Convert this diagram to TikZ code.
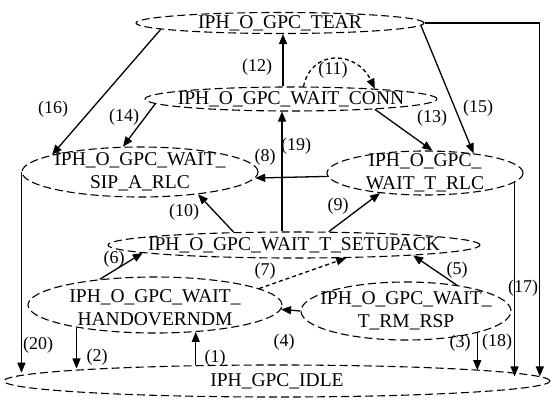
\documentclass[tikz,border=0pt]{standalone}
\usepackage{fontspec}
\setmainfont{Liberation Serif}
\usetikzlibrary{shapes.geometric,arrows.meta,calc}
\begin{document}
\begin{tikzpicture}[x=1pt,y=-1pt,
  ell/.style={draw, ellipse, dash pattern=on 8pt off 4pt, line width=1.1pt, inner sep=0pt},
  txt/.style={inner sep=0pt, align=center, font=\fontsize{19.5}{23}\selectfont},
  lbl/.style={inner sep=0pt, font=\fontsize{18}{21}\selectfont},
  arr/.style={line width=1.3pt, -{Triangle[length=10pt,width=8pt]}},
  darr/.style={arr, dash pattern=on 4pt off 3pt}]
\useasboundingbox (0,0) rectangle (553,404);

% states
\node[ell, minimum width=288pt, minimum height=21pt] (tear) at (280,23) {};
\node[txt] (tear-t) at (tear) {IPH\_O\_GPC\_TEAR};
\node[ell, minimum width=292pt, minimum height=24pt] (conn) at (291,99) {};
\node[txt] (conn-t) at (conn) {IPH\_O\_GPC\_WAIT\_CONN};
\node[ell, minimum width=236pt, minimum height=50pt] (sip) at (140,172) {};
\node[txt] (sip-t) at (sip) {IPH\_O\_GPC\_WAIT\_\\SIP\_A\_RLC};
\node[ell, minimum width=196pt, minimum height=44pt] (trlc) at (425,173) {};
\node[txt] (trlc-t) at (trlc) {IPH\_O\_GPC\_\\WAIT\_T\_RLC};
\node[ell, minimum width=372pt, minimum height=26pt] (setup) at (294,245) {};
\node[txt] (setup-t) at (setup) {IPH\_O\_GPC\_WAIT\_T\_SETUPACK};
\node[ell, minimum width=254pt, minimum height=56pt] (hand) at (155,305) {};
\node[txt] (hand-t) at ([yshift=-3pt]hand.center) {IPH\_O\_GPC\_WAIT\_\\HANDOVERNDM};
\node[ell, minimum width=210pt, minimum height=58pt] (rmrsp) at (406,311) {};
\node[txt] (rmrsp-t) at (rmrsp) {IPH\_O\_GPC\_WAIT\_\\T\_RM\_RSP};
\node[ell, minimum width=546pt, minimum height=32pt] (idle) at (277,381) {};
\node[txt] (idle-t) at (idle) {IPH\_GPC\_IDLE};

% transitions
\draw[arr] (tear.183) -- (sip.169);
\draw[arr] (conn.182.3) -- (sip.124.5);
\draw[arr] ([xshift=-8pt]conn.north) -- ([xshift=-8pt]conn.north |- tear.south);
\draw[darr] (conn.45) .. controls +(8,-38) and +(-18,-38) .. (conn.7.5);
\draw[arr] (conn.353.6) -- (trlc.72);
\draw[arr] (tear.359) -- (trlc.22.3);
\draw[arr] (tear.east) -| (idle.1);
\draw[arr] (trlc.354.5) -- (trlc.354.5 |- idle.1.9);
\draw[arr] (rmrsp.343.7) -- (rmrsp.343.7 |- idle.3.08);
\draw[arr] (sip.west) -- (sip.west |- idle.178.7);
\draw[arr] (hand.196.8) -- (hand.196.8 |- idle.176.8);
\draw[arr] (idle.169.2) -- (idle.169.2 |- hand.327.9);
\draw[arr] (trlc.182.4) -- (sip.357.5);
\draw[arr] ([xshift=-12pt]setup.north) -- ([xshift=-12pt]setup.north |- conn.south);
\draw[arr] (setup.168.2) -- (sip.339.4);
\draw[arr] (setup.21.2) -- (trlc.204.7);
\draw[arr] (hand.155.4) -- (setup.183.8);
\draw[darr] (hand.9.8) -- (setup.346.7);
\draw[arr] (rmrsp.27.6) -- (setup.355.5);
\draw[arr] (rmrsp.west) -- (hand.358);

% labels
\node[lbl] (l16) at (53,109) {(16)};
\node[lbl] (l14) at (124,117) {(14)};
\node[lbl] (l12) at (257,67) {(12)};
\node[lbl] (l11) at (333,70) {(11)};
\node[lbl] (l13) at (432,118) {(13)};
\node[lbl] (l15) at (478,108) {(15)};
\node[lbl] (l8) at (265,157) {(8)};
\node[lbl] (l19) at (296,146) {(19)};
\node[lbl] (l10) at (184,212) {(10)};
\node[lbl] (l9) at (338,206) {(9)};
\node[lbl] (l6) at (114,259) {(6)};
\node[lbl] (l7) at (265,271) {(7)};
\node[lbl] (l5) at (457,270) {(5)};
\node[lbl] (l4) at (284,342) {(4)};
\node[lbl] (l3) at (460,343) {(3)};
\node[lbl] (l18) at (497,342) {(18)};
\node[lbl] (l17) at (523,288) {(17)};
\node[lbl] (l20) at (38,345) {(20)};
\node[lbl] (l2) at (97,357) {(2)};
\node[lbl] (l1) at (215,358) {(1)};
\end{tikzpicture}
\end{document}
